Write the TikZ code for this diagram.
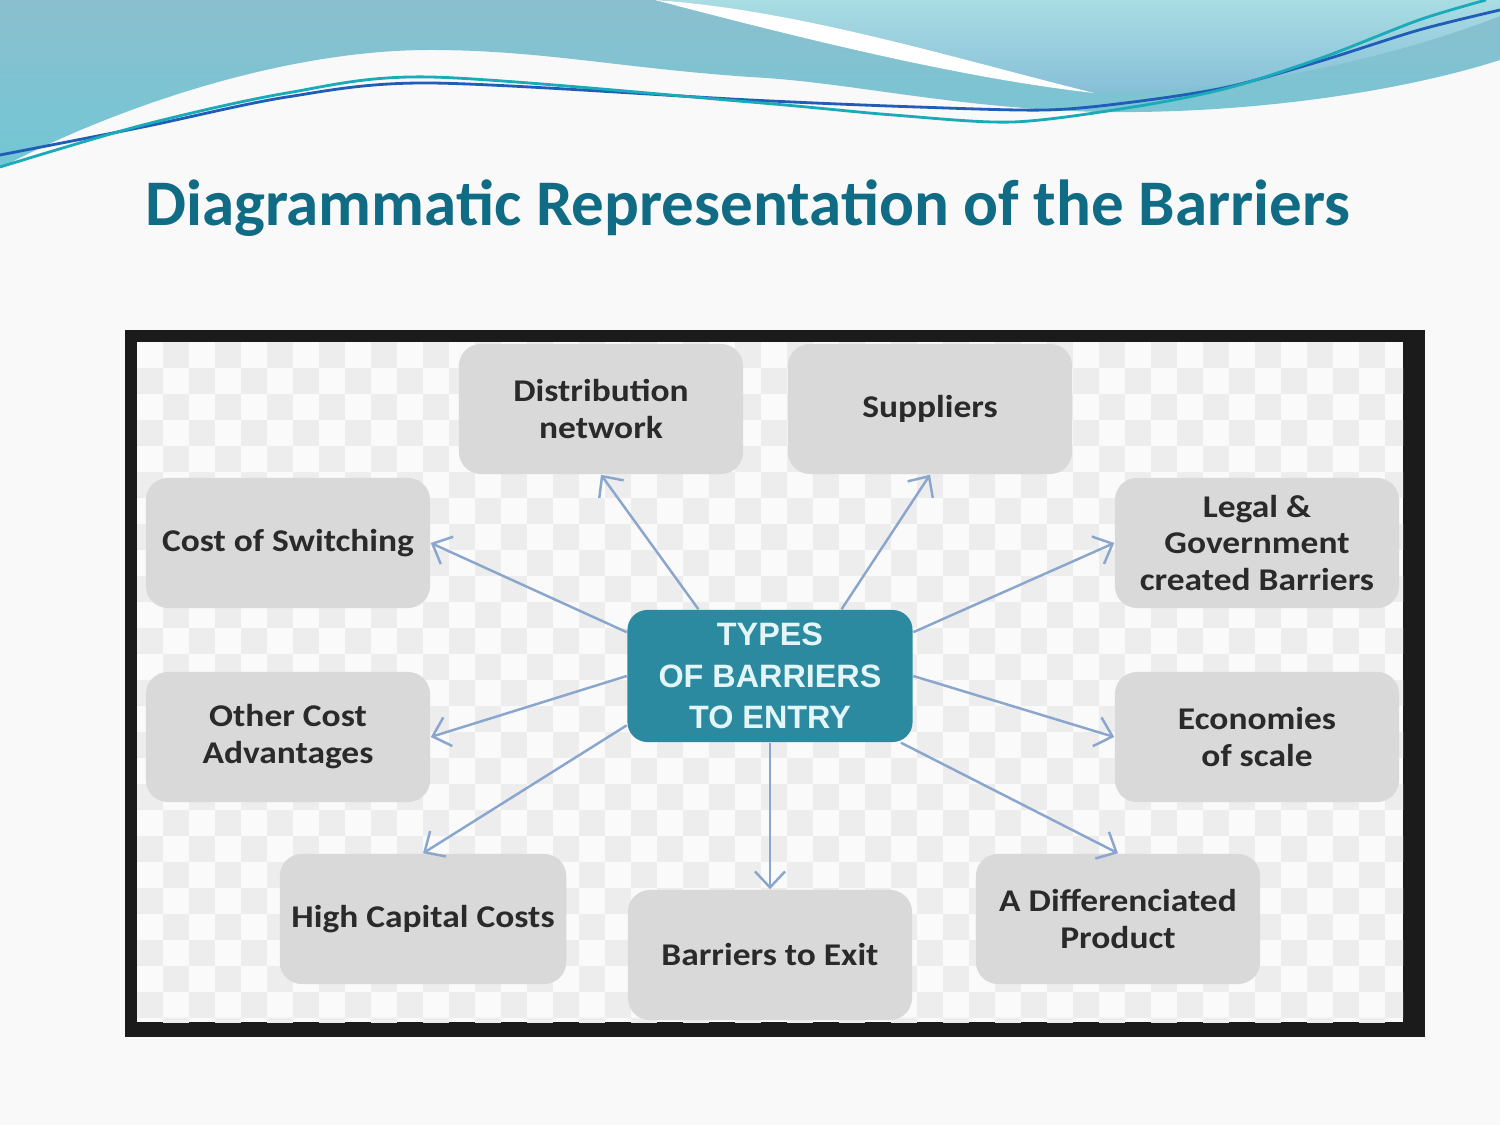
\documentclass[tikz,border=0pt]{standalone}
\usepackage{fontspec}
\setmainfont{Carlito}
\newfontfamily\boxfont[FakeStretch=1.12]{Carlito}
\newfontfamily\hubfont{Liberation Sans}
\usepackage{tikz}
\usetikzlibrary{arrows.meta}

\definecolor{slidebg}{HTML}{F9F9F9}
\definecolor{hdrtop}{HTML}{8BBFCF}
\definecolor{hdrlow}{HTML}{72C7D5}
\definecolor{hdrlight}{HTML}{A9DDE3}
\definecolor{hdrmid}{HTML}{87BFD8}
\definecolor{lineblue}{HTML}{1F5DB8}
\definecolor{lineteal}{HTML}{1AAAB8}
\definecolor{titleteal}{HTML}{0F6C84}
\definecolor{framegray}{HTML}{1B1B1B}
\definecolor{checkwhite}{HTML}{FAFAFA}
\definecolor{checkgray}{HTML}{EDEDED}
\definecolor{boxgray}{HTML}{D9D9D9}
\definecolor{boxtext}{HTML}{2A2A2A}
\definecolor{hubteal}{HTML}{2B8AA0}
\definecolor{hubtext}{HTML}{E4F5F8}
\definecolor{arrowblue}{HTML}{8AA6CC}

\begin{document}
\begin{tikzpicture}[
  x=0.01cm, y=-0.01cm,
  barrier/.style={rectangle, fill=boxgray, rounded corners=0.22cm, minimum width=2.84cm, minimum height=1.3cm, align=center, text=boxtext, font=\boxfont\bfseries\fontsize{9}{10.5}\selectfont},
  hub/.style={rectangle, fill=hubteal, rounded corners=0.2cm, minimum width=2.85cm, minimum height=1.32cm, align=center, text=hubtext, font=\hubfont\bfseries\fontsize{9.2}{11.7}\selectfont},
  arr/.style={-{Straight Barb[length=1.6mm, width=3mm]}, arrowblue, line width=0.7pt},
]
\useasboundingbox (0,0) rectangle (1500,1125);
\fill[slidebg] (0,0) rectangle (1500,1125);

% === Header waves ===
\shade[top color=hdrtop, bottom color=hdrlow] (0,0) -- (1500,0) -- (1500,60)
  .. controls (1400,92) and (1250,114) .. (1100,112)
  .. controls (950,108) and (850,82) .. (750,77)
  .. controls (620,68) and (540,50) .. (430,50)
  .. controls (280,50) and (110,110) .. (0,168) -- cycle;
\shade[top color=hdrlight, bottom color=hdrmid] (660,0) -- (1500,0) -- (1500,16)
  .. controls (1400,55) and (1250,92) .. (1094,93)
  .. controls (950,60) and (800,12) .. (660,0) -- cycle;
\fill[white] (655,0) .. controls (800,10) and (960,60) .. (1094,93)
  .. controls (960,78) and (800,38) .. (655,0) -- cycle;
\draw[lineblue, line width=0.8pt] plot[smooth] coordinates {(0,155) (143,127) (287,97) (430,83) (750,100) (917,107) (1046,110) (1133,102) (1228,87) (1324,60) (1419,30) (1500,10)};
\draw[lineteal, line width=0.8pt] plot[smooth] coordinates {(0,167) (143,125) (287,93) (430,77) (750,102) (893,115) (1013,122) (1133,107) (1228,88) (1324,57) (1419,20) (1486,0)};

% === Title ===
\node[text=titleteal, font=\bfseries\fontsize{18.5}{22}\selectfont] (title) at (748,208) {Diagrammatic Representation of the Barriers};

% === Frame and checkered backdrop ===
\fill[framegray] (125,330) rectangle (1425,1037);
\begin{scope}
  \clip (137,342) rectangle (1403,1022);
  \fill[checkwhite] (137,342) rectangle (1403,1022);
  \foreach \x in {137,189,...,1403}
    \foreach \y in {342,394,...,1022} {
      \fill[checkgray] (\x+26,\y) rectangle ++(26,26);
      \fill[checkgray] (\x,\y+26) rectangle ++(26,26);
    }
\end{scope}

% === Centre node ===
\node[hub] (hub) at (770,676) {TYPES\\OF BARRIERS\\TO ENTRY};

% === Barrier boxes ===
\node[barrier] (dist) at (601,409) {Distribution\\network};
\node[barrier] (supp) at (930,409) {Suppliers};
\node[barrier] (switch) at (288,543) {Cost of Switching};
\node[barrier] (legal) at (1257,543) {Legal \&\\Government\\created Barriers};
\node[barrier] (other) at (288,737) {Other Cost\\Advantages};
\node[barrier] (econ) at (1257,737) {Economies\\of scale};
\node[barrier] (capital) at (423,919) {High Capital Costs};
\node[barrier] (exit) at (770,955) {Barriers to Exit};
\node[barrier] (diff) at (1118,919) {A Differenciated\\Product};

% === Arrows ===
\draw[arr] (hub.137) -- (dist.south);
\draw[arr] (hub.43) -- (supp.south);
\draw[arr] (hub.163) -- (switch.east);
\draw[arr] (hub.17) -- (legal.west);
\draw[arr] (hub.west) -- (other.east);
\draw[arr] (hub.east) -- (econ.west);
\draw[arr] (hub.199.5) -- (capital.north);
\draw[arr] (hub.333) -- (diff.north);
\draw[arr] (hub.south) -- (exit.north);
\end{tikzpicture}
\end{document}
